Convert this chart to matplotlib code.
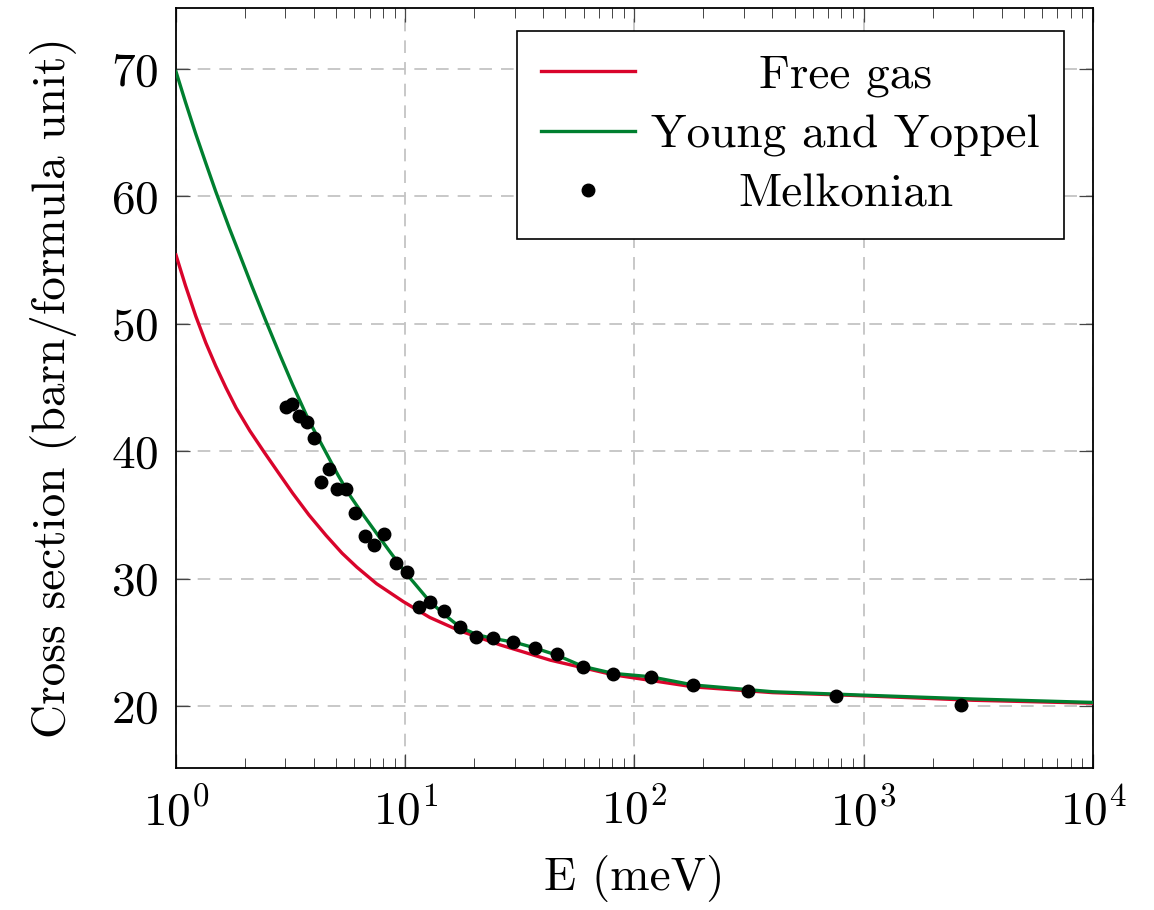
import matplotlib
matplotlib.use("Agg")
import matplotlib.pyplot as plt

# ---------------- DATA ----------------
# free gas model (red)
free_E = [1.0, 1.1, 1.22, 1.35, 1.49, 1.65, 1.83, 2.1, 2.43, 2.8, 3.23, 3.8,
          4.51, 5.3, 6.15, 7.5, 9.8, 12.8, 17.3, 25.9, 42.9, 80.8, 181, 400,
          1000, 3000, 10000]
free_sigma = [55.4, 53.0, 50.6, 48.5, 46.7, 45.0, 43.4, 41.6, 39.9, 38.3, 36.7,
              35.0, 33.4, 32.0, 30.9, 29.6, 28.2, 26.95, 25.9, 24.8, 23.6,
              22.45, 21.5, 21.05, 20.8, 20.45, 20.22]

# Young and Koppel model (green)
yk_E = [1.0, 1.1, 1.22, 1.35, 1.49, 1.71, 1.89, 2.15, 2.47, 2.85, 3.23, 3.8,
        4.51, 5.1, 5.7, 6.5, 7.33, 8.5, 10.1, 12.8, 15.0, 17.3, 20.5, 24.2,
        30, 36.1, 45.7, 59.8, 80.8, 117, 181, 400, 1000, 3000, 10000]
yk_sigma = [69.8, 67.4, 64.9, 62.6, 60.4, 57.5, 55.5, 52.9, 50.2, 47.5, 45.2,
            42.4, 39.9, 38.1, 36.6, 35.1, 33.8, 32.2, 30.4, 28.2, 27.1, 26.2,
            25.6, 25.3, 25.0, 24.6, 24.0, 23.1, 22.56, 22.3, 21.65, 21.12,
            20.85, 20.55, 20.28]

# Melkonian measurements (dots)
mel_E = [3.02, 3.21, 3.44, 3.73, 4.00, 4.29, 4.65, 5.04, 5.52, 6.04, 6.67,
         7.31, 8.08, 9.11, 10.2, 11.5, 12.8, 14.8, 17.3, 20.3, 24.1, 29.5,
         36.8, 45.9, 59.6, 80.5, 118, 180, 313, 757, 2655]
mel_sigma = [43.5, 43.7, 42.8, 42.3, 41.0, 37.6, 38.6, 37.0, 37.0, 35.15, 33.35,
             32.65, 33.5, 31.25, 30.55, 27.75, 28.15, 27.45, 26.2, 25.4, 25.35,
             25.0, 24.55, 24.05, 23.05, 22.5, 22.28, 21.65, 21.18, 20.78, 20.08]

y_ticks = [20, 30, 40, 50, 60, 70]

# ---------------- STYLE ----------------
plt.rcParams["font.family"] = "serif"
plt.rcParams["font.serif"] = ["cmr10", "DejaVu Serif"]
plt.rcParams["mathtext.fontset"] = "cm"
plt.rcParams["axes.formatter.use_mathtext"] = True
plt.rcParams["font.size"] = 34

RED = "#d9042b"
GREEN = "#007f2f"

# ---------------- PLOT ----------------
fig = plt.figure(figsize=(11.54, 9.10), dpi=100)
ax = fig.add_axes([0.1525, 0.156, 0.7946, 0.8352])

ax.plot(free_E, free_sigma, color=RED, lw=2.4, label="Free gas", zorder=3)
ax.plot(yk_E, yk_sigma, color=GREEN, lw=2.4, label="Young and Yoppel", zorder=4)
ax.plot(mel_E, mel_sigma, "o", color="black", ms=9, lw=0,
        label="Melkonian", zorder=5)

ax.set_xscale("log")
ax.set_xlim(1, 1e4)
ax.set_ylim(15.13, 74.79)
ax.set_yticks(y_ticks)

ax.grid(True, which="major", color="#c4c4c4", linestyle=(0, (7, 5)), lw=1.3)
ax.tick_params(which="both", direction="in", top=True, right=True,
               colors="#444444", labelcolor="black")
ax.tick_params(which="major", length=10, width=0.9)
ax.tick_params(axis="x", which="major", pad=14)
ax.tick_params(axis="y", which="major", pad=13)
ax.tick_params(which="minor", length=7, width=0.7)
for s in ax.spines.values():
    s.set_linewidth(1.3)
    s.set_color("black")

ax.set_xlabel("E (meV)", labelpad=15)
ax.set_ylabel("Cross section (barn/formula unit)", labelpad=24)

leg = ax.legend(loc="upper right", bbox_to_anchor=(0.968, 0.970),
                borderaxespad=0, fancybox=False, framealpha=1,
                edgecolor="black", handlelength=2.0, handletextpad=0.34,
                borderpad=0.5, labelspacing=0.36)
leg.get_frame().set_linewidth(1.2)

# center the legend texts like pgfplots does
fig.canvas.draw()
texts = leg.get_texts()
widths = [t.get_window_extent().width for t in texts]
wmax = max(widths)
for t, w in zip(texts, widths):
    t.set_x((wmax - w) / 2)

fig.savefig("out.png", dpi=100)
